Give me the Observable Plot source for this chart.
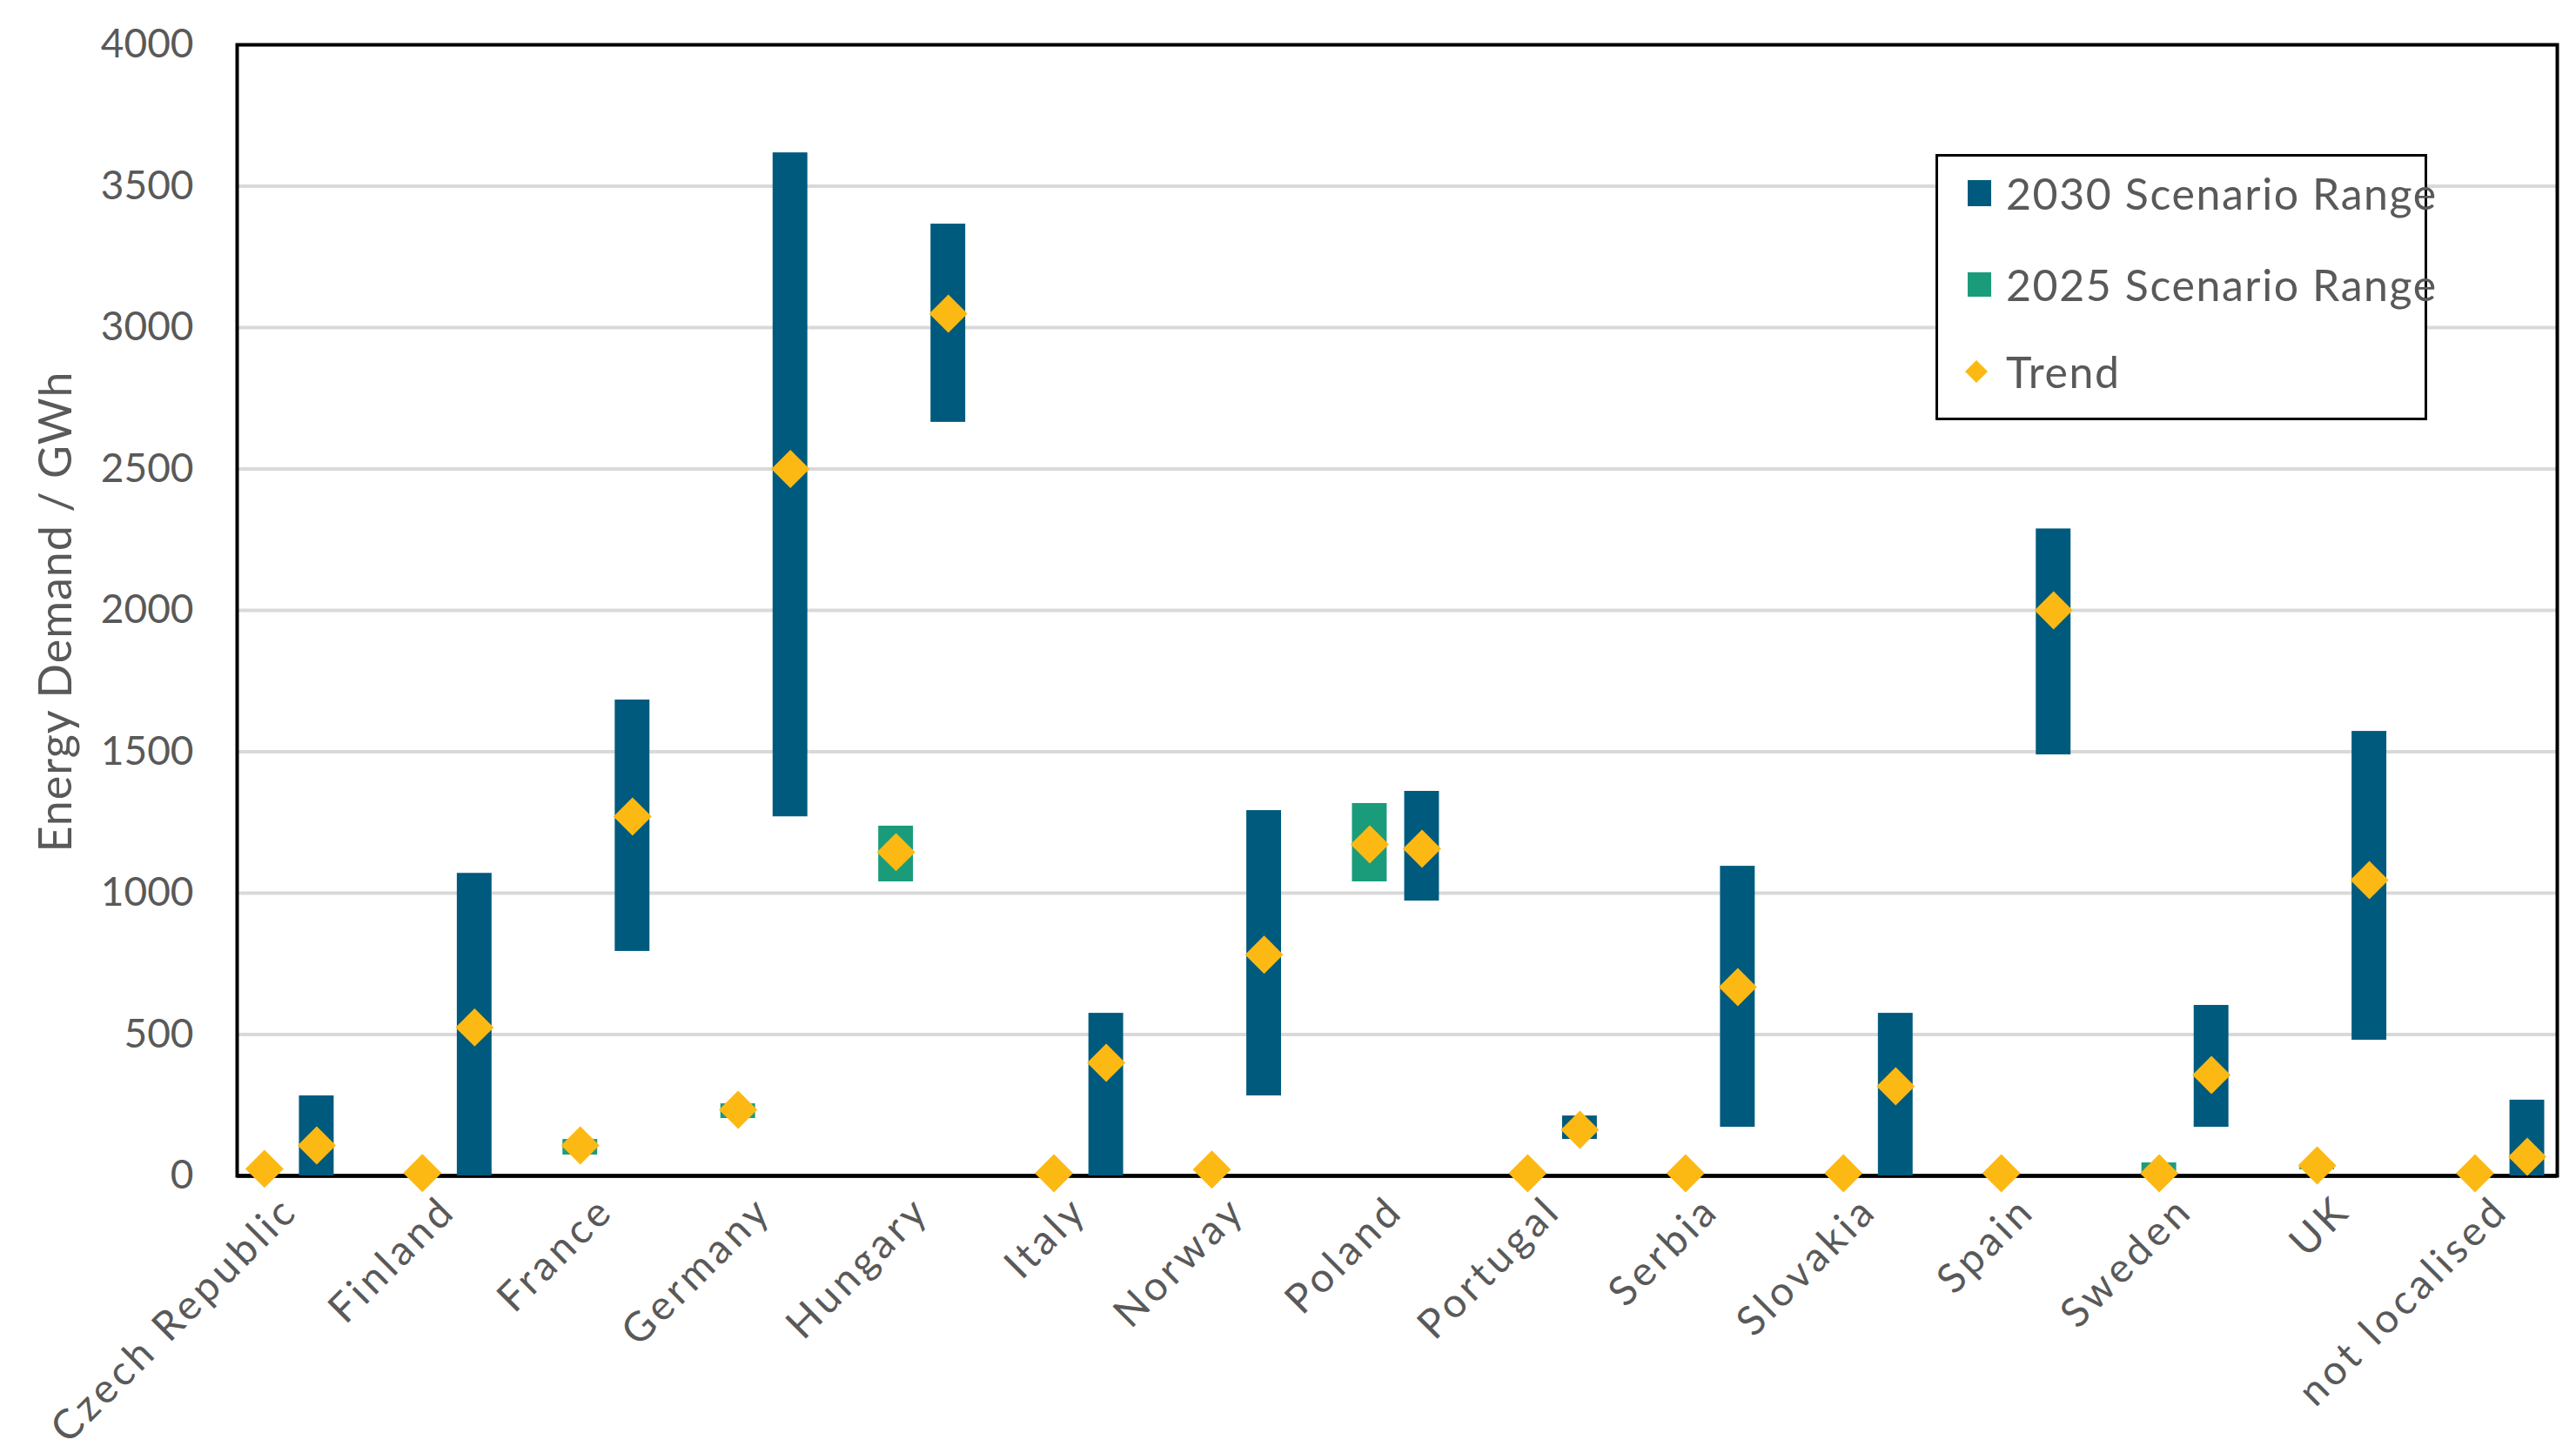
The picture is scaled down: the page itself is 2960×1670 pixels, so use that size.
<!DOCTYPE html>
<html>
<head>
<meta charset="utf-8">
<script src="https://cdn.jsdelivr.net/npm/d3@7"></script>
<script src="https://cdn.jsdelivr.net/npm/@observablehq/plot@0.6"></script>
<style>
  html, body { margin: 0; padding: 0; background: #ffffff; overflow: hidden; }
  #wrap { position: relative; width: 2960px; height: 1670px; font-family: Lato, "Open Sans", sans-serif; }
  g[aria-label="x-axis tick label"] text { letter-spacing: 4.5px; }
  #ylabel { position: absolute; left: 62px; top: 703px; transform: translate(-50%, -50%) rotate(-90deg);
            font-size: 52px; color: #595959; white-space: nowrap; letter-spacing: 1px; }
  #legend { position: absolute; left: 2224px; top: 177px; width: 559px; height: 300px;
            border: 3px solid #000; background: #fff; }
  .row { position: absolute; left: 0; height: 0; }
  .sw { position: absolute; left: 34px; width: 27px; height: 30px; top: -15px; }
  .lt { position: absolute; left: 78px; top: -31px; font-size: 50px; line-height: 62px; color: #595959;
        white-space: nowrap; letter-spacing: 1.6px; }
</style>
</head>
<body>
<div id="wrap">
  <div id="chart"></div>
  <div id="ylabel"></div>
  <div id="legend"></div>
</div>
<script>
// ---- data ----
const countries = ["Czech Republic", "Finland", "France", "Germany", "Hungary", "Italy", "Norway",
  "Poland", "Portugal", "Serbia", "Slovakia", "Spain", "Sweden", "UK", "not localised"];
const low2030   = [0, 0, 794, 1270, 2665, 0, 283, 972, 129, 172, 0, 1489, 172, 480, 0];
const high2030  = [283, 1070, 1683, 3618, 3366, 575, 1292, 1360, 212, 1095, 575, 2288, 603, 1572, 268];
const trend2030 = [108, 525, 1271, 2500, 3049, 400, 782, 1157, 163, 668, 317, 2000, 357, 1046, 68];
const low2025   = [null, null, 74, 203, 1040, null, null, 1040, null, null, null, null, 0, 22, null];
const high2025  = [null, null, 129, 255, 1237, null, null, 1317, null, null, null, null, 46, 34, null];
const trend2025 = [25, 10, 108, 234, 1145, 9, 22, 1172, 9, 9, 9, 9, 9, 37, 9];
const yTicks = [0, 500, 1000, 1500, 2000, 2500, 3000, 3500, 4000];
const seriesNames = ["2030 Scenario Range", "2025 Scenario Range", "Trend"];
const yTitle = "Energy Demand / GWh";

// ---- styling ----
const C2030 = "#005a7e", C2025 = "#1a9c7b", CTREND = "#fdb913", TXT = "#595959";
const OFF25 = -0.331;   // 2025 slot offset within category (in category units)
const HALF = 0.11;      // half bar width (category units)
const LBL = -0.165;     // category label position

const rows30 = countries.map((c, i) => ({i, c, lo: low2030[i], hi: high2030[i], t: trend2030[i]}));
const rows25 = countries.map((c, i) => ({i, c, lo: low2025[i], hi: high2025[i], t: trend2025[i]}));

const chart = Plot.plot({
  width: 2960,
  height: 1670,
  marginLeft: 272,
  marginRight: 22,
  marginTop: 51,
  marginBottom: 319,
  style: {background: "#ffffff", fontFamily: "Lato, 'Open Sans', sans-serif"},
  x: {type: "linear", domain: [-0.504, 14.19], axis: null},
  y: {domain: [0, 4000], axis: null},
  marks: [
    Plot.ruleY(yTicks.filter(d => d > 0), {stroke: "#d9d9d9", strokeWidth: 4}),
    Plot.axisY(yTicks, {tickSize: 0, tickPadding: 50, fontSize: 46, color: TXT, label: null,
      tickFormat: d => String(d)}),
    Plot.axisX(countries.map((c, i) => i + LBL), {
      tickSize: 0, tickPadding: 32, fontSize: 47, color: TXT, label: null, tickRotate: -45,
      tickFormat: d => countries[Math.round(d - LBL)]
    }),
    Plot.frame({stroke: "#000", strokeWidth: 4}),
    Plot.ruleY([0], {stroke: "#000", strokeWidth: 4.5}),
    Plot.rectY(rows30, {x1: d => d.i - HALF, x2: d => d.i + HALF, y1: "lo", y2: "hi", fill: C2030}),
    Plot.rectY(rows25.filter(d => d.lo != null), {x1: d => d.i + OFF25 - HALF, x2: d => d.i + OFF25 + HALF, y1: "lo", y2: "hi", fill: C2025}),
    Plot.dot(rows25, {x: d => d.i + OFF25, y: "t", symbol: "diamond2", r: 19.8, fill: CTREND, stroke: null}),
    Plot.dot(rows30, {x: d => d.i, y: "t", symbol: "diamond2", r: 19.8, fill: CTREND, stroke: null})
  ]
});
document.getElementById("chart").appendChild(chart);
document.getElementById("ylabel").textContent = yTitle;

// ---- legend ----
const legend = document.getElementById("legend");
const rowY = [42, 147, 247];
const colors = [C2030, C2025, CTREND];
seriesNames.forEach((name, k) => {
  const row = document.createElement("div");
  row.className = "row";
  row.style.top = rowY[k] + "px";
  if (k < 2) {
    const sw = document.createElement("div");
    sw.className = "sw";
    sw.style.background = colors[k];
    if (k === 1) { sw.style.height = "28px"; sw.style.top = "-14px"; }
    row.appendChild(sw);
  } else {
    const ns = "http://www.w3.org/2000/svg";
    const s = document.createElementNS(ns, "svg");
    s.setAttribute("width", 28); s.setAttribute("height", 28);
    s.style.position = "absolute"; s.style.left = "30px"; s.style.top = "-14px";
    const p = document.createElementNS(ns, "path");
    p.setAttribute("d", "M14,1 L27,14 L14,27 L1,14 Z");
    p.setAttribute("fill", CTREND);
    s.appendChild(p);
    row.appendChild(s);
  }
  const t = document.createElement("div");
  t.className = "lt";
  t.textContent = name;
  row.appendChild(t);
  legend.appendChild(row);
});
</script>
</body>
</html>
